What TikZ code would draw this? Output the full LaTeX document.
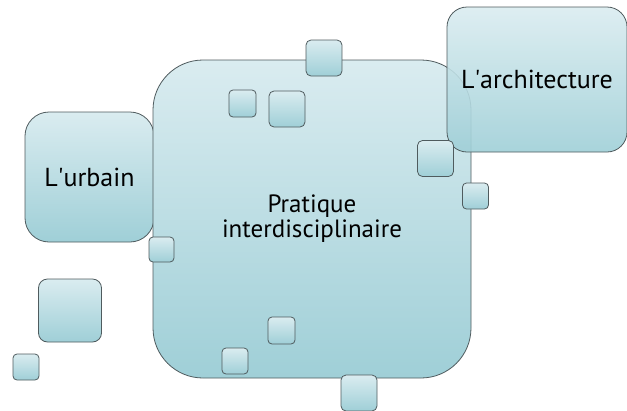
\documentclass[tikz,border=0pt]{standalone}
\usepackage{fontspec}
\setmainfont{PT Sans}
\definecolor{tiletop}{HTML}{DAECF0}
\definecolor{tilebot}{HTML}{9FCFD7}
\definecolor{tileline}{HTML}{4F5B5E}
\tikzset{
  tile/.style={draw=tileline, line width=0.8pt, top color=tiletop, bottom color=tilebot,
    inner sep=0pt, align=center, font=\fontsize{26}{28}\selectfont}
}
\begin{document}
\begin{tikzpicture}[x=1pt,y=-1pt]
        \useasboundingbox (0,0) rectangle (627,410);
        % big panels
        \node[tile, minimum width=129pt, minimum height=130pt, rounded corners=24pt] (urbain) at (89.5,177) {L\textquotesingle urbain};
        \node[tile, minimum width=318pt, minimum height=318pt, rounded corners=50pt, font=\fontsize{25}{25}\selectfont] (pratique) at (312,219) {Pratique\\interdisciplinaire};
        \node[tile, minimum width=180pt, minimum height=145pt, rounded corners=20pt, fill opacity=0.9, text opacity=1] (archi) at (537,79.5) {L\textquotesingle architecture};
        % small tiles
        \node[tile, minimum size=36pt, rounded corners=5pt] (s1) at (324,58) {};
        \node[tile, minimum size=27pt, rounded corners=4pt] (s2) at (242.5,103.5) {};
        \node[tile, minimum size=36pt, rounded corners=5pt] (s3) at (287,109) {};
        \node[tile, minimum size=36pt, rounded corners=5pt] (s4) at (435.5,158.5) {};
        \node[tile, minimum size=26pt, rounded corners=4pt] (s5) at (475.5,196) {};
        \node[tile, minimum size=25pt, rounded corners=4pt] (s6) at (161.5,249.5) {};
        \node[tile, minimum size=63pt, rounded corners=9pt] (s7) at (70,310.5) {};
        \node[tile, minimum size=26pt, rounded corners=4pt] (s8) at (26,367) {};
        \node[tile, minimum size=26pt, rounded corners=4pt] (s9) at (235,361) {};
        \node[tile, minimum size=27pt, rounded corners=4pt] (s10) at (281.5,330.5) {};
        \node[tile, minimum size=36pt, rounded corners=5pt] (s11) at (359,393) {};
\end{tikzpicture}
\end{document}
